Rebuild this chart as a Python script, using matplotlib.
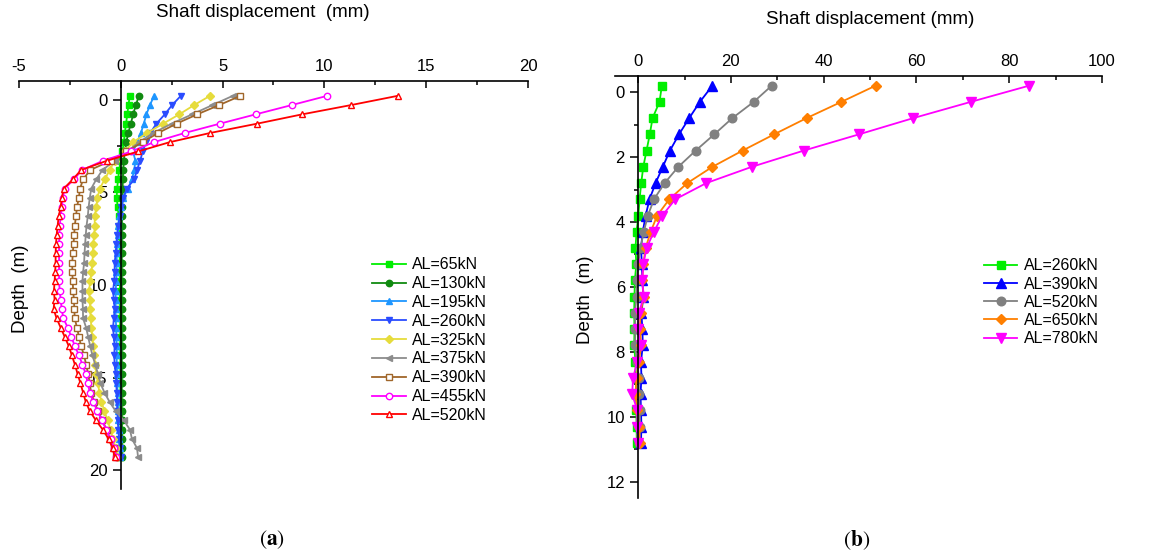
import matplotlib.pyplot as plt
from matplotlib.ticker import MultipleLocator

plt.rcParams['font.family'] = ['Liberation Sans', 'DejaVu Sans']
plt.rcParams['mathtext.fontset'] = 'stix'
plt.rcParams['axes.unicode_minus'] = False

# Data (a): shaft displacement (mm) vs depth (m)
depth_a = [-0.2, 0.3, 0.8, 1.3, 1.8, 2.3, 2.8, 3.3, 3.8, 4.3,
           4.8, 5.3, 5.8, 6.3, 6.8, 7.3, 7.8, 8.3, 8.8, 9.3,
           9.8, 10.3, 10.8, 11.3, 11.8, 12.3, 12.8, 13.3, 13.8, 14.3,
           14.8, 15.3, 15.8, 16.3, 16.8, 17.3, 17.8, 18.3, 18.8, 19.3]
al65 = [0.44, 0.38, 0.32, 0.26, 0.2, 0.15, 0.08, 0.0, -0.08, -0.13,
        -0.18, -0.2, -0.15, -0.1, -0.08, -0.06, -0.05, -0.05, -0.05, -0.04,
        -0.04, -0.04, -0.04, -0.03, -0.03, -0.03, -0.03, -0.03, -0.02, -0.02,
        -0.02, -0.02, -0.02, -0.02, -0.01, -0.01, -0.01, 0.0, 0.0, 0.0]
al130 = [0.88, 0.75, 0.6, 0.5, 0.37, 0.27, 0.2, 0.15, 0.12, 0.1,
         0.09, 0.08, 0.07, 0.06, 0.06, 0.05, 0.05, 0.05, 0.05, 0.05,
         0.05, 0.05, 0.05, 0.05, 0.05, 0.05, 0.05, 0.05, 0.05, 0.05,
         0.05, 0.05, 0.05, 0.05, 0.05, 0.06, 0.06, 0.06, 0.06, 0.06]
al195 = [1.64, 1.43, 1.26, 1.13, 0.99, 0.82, 0.6, 0.72, 0.66, 0.55,
         0.36, 0.1, 0.0, -0.08, -0.12, -0.15, -0.18, -0.2, -0.2, -0.22,
         -0.22, -0.25, -0.25, -0.25, -0.25, -0.22, -0.22, -0.2, -0.2, -0.2,
         -0.18, -0.18, -0.15, -0.15, -0.12, -0.12, -0.1, -0.08, -0.05, -0.03]
al260 = [2.95, 2.52, 2.16, 1.75, 1.45, 1.22, 1.08, 0.95, 0.8, 0.66,
         0.3, 0.12, 0.03, -0.05, -0.13, -0.18, -0.22, -0.25, -0.3, -0.3,
         -0.32, -0.38, -0.34, -0.3, -0.34, -0.38, -0.34, -0.3, -0.32, -0.3,
         -0.25, -0.22, -0.2, -0.18, -0.18, -0.14, -0.12, -0.08, -0.04, 0.0]
al325 = [4.38, 3.6, 2.87, 2.08, 1.3, 0.6, 0.2, -0.3, -0.54, -0.79,
         -1.03, -1.15, -1.2, -1.28, -1.28, -1.3, -1.36, -1.36, -1.4, -1.44,
         -1.5, -1.56, -1.52, -1.5, -1.48, -1.44, -1.4, -1.36, -1.3, -1.25,
         -1.2, -1.12, -1.05, -0.95, -0.8, -0.65, -0.5, -0.38, -0.25, -0.18]
al375 = [5.5, 4.5, 3.5, 2.5, 1.6, 0.9, 0.3, -0.3, -0.9, -1.2,
         -1.45, -1.52, -1.58, -1.62, -1.68, -1.72, -1.75, -1.78, -1.8, -1.85,
         -1.88, -1.88, -1.88, -1.86, -1.85, -1.7, -1.6, -1.5, -1.39, -1.25,
         -1.12, -1.0, -0.8, -0.55, -0.25, 0.15, 0.45, 0.55, 0.8, 0.85]
al390 = [5.88, 4.83, 3.75, 2.74, 1.84, 1.07, 0.28, -0.5, -1.5, -1.85,
         -2.0, -2.06, -2.15, -2.2, -2.26, -2.29, -2.32, -2.36, -2.38, -2.38,
         -2.36, -2.34, -2.3, -2.28, -2.26, -2.15, -2.05, -1.95, -1.8, -1.7,
         -1.6, -1.52, -1.46, -1.3, -1.12, -0.9, -0.7, -0.52, -0.35, -0.25]
al455 = [10.14, 8.39, 6.62, 4.87, 3.15, 1.62, 0.52, -0.87, -1.9, -2.3,
         -2.75, -2.85, -2.9, -2.95, -3.0, -3.02, -3.03, -3.03, -3.03, -3.03,
         -3.03, -3.0, -2.95, -2.9, -2.82, -2.6, -2.43, -2.25, -2.05, -1.88,
         -1.72, -1.62, -1.52, -1.35, -1.15, -0.92, -0.72, -0.5, -0.32, -0.22]
al520 = [13.6, 11.3, 8.9, 6.7, 4.4, 2.4, 0.85, -0.68, -1.95, -2.35,
         -2.8, -2.9, -2.95, -3.05, -3.1, -3.15, -3.18, -3.2, -3.2, -3.22,
         -3.25, -3.28, -3.25, -3.3, -3.15, -2.95, -2.75, -2.55, -2.4, -2.25,
         -2.12, -1.98, -1.85, -1.72, -1.52, -1.22, -0.88, -0.6, -0.4, -0.3]

# Data (b)
depth_b = [-0.2, 0.3, 0.8, 1.3, 1.8, 2.3, 2.8, 3.3, 3.8, 4.3, 4.8, 5.3,
           5.8, 6.3, 6.8, 7.3, 7.8, 8.3, 8.8, 9.3, 9.8, 10.3, 10.8]
b260 = [5.1, 4.6, 3.1, 2.5, 1.8, 1.1, 0.65, 0.3, 0.05, -0.36, -0.58, -0.4,
        -0.72, -0.8, -0.86, -0.8, -0.86, -0.6, -0.5, -0.45, -0.4, -0.35, -0.3]
b390 = [16.0, 13.3, 11.0, 8.8, 6.85, 5.3, 3.75, 2.45, 1.6, 1.0, 0.6, 0.8,
        0.9, 1.1, 0.7, 0.9, 1.0, 0.6, 0.7, 0.5, 0.6, 0.7, 0.6]
b520 = [28.8, 24.9, 20.3, 16.4, 12.4, 8.65, 5.7, 3.4, 2.1, 1.2, 0.5, 0.0,
        -0.36, -0.36, -0.72, -0.58, -0.72, -0.2, 0.15, 0.15, 0.36, 0.36, 0.15]
b650 = [51.2, 43.8, 36.3, 29.3, 22.5, 16.0, 10.6, 6.7, 4.1, 2.7, 1.6, 1.1,
        0.87, 1.2, 0.5, 0.36, 0.65, 0.15, -0.36, -0.58, -0.2, 0.15, 0.36]
b780 = [84.3, 71.7, 59.3, 47.6, 35.7, 24.5, 14.7, 8.0, 5.2, 3.4, 1.8, 1.1,
        0.87, 1.2, 0.15, -0.07, 0.5, -0.2, -1.1, -1.3, -0.2, -0.2, -0.07]

labels_a = ['AL=65kN', 'AL=130kN', 'AL=195kN', 'AL=260kN', 'AL=325kN',
            'AL=375kN', 'AL=390kN', 'AL=455kN', 'AL=520kN']
labels_b = ['AL=260kN', 'AL=390kN', 'AL=520kN', 'AL=650kN', 'AL=780kN']

fig = plt.figure(figsize=(11.63, 5.51), dpi=100)
ax1 = fig.add_axes([0.0163, 0.1125, 0.4377, 0.7405])
ax2 = fig.add_axes([0.5288, 0.0962, 0.4187, 0.766])


def style_axis(ax):
    ax.spines['left'].set_position(('data', 0))
    ax.spines['right'].set_visible(False)
    ax.spines['bottom'].set_visible(False)
    for s in ['left', 'top']:
        ax.spines[s].set_linewidth(1.2)
    ax.xaxis.tick_top()
    ax.xaxis.set_label_position('top')
    ax.tick_params(axis='x', which='both', direction='in', labelsize=12, width=1.1, pad=5)
    ax.tick_params(axis='x', which='major', length=5)
    ax.tick_params(axis='x', which='minor', length=3)
    ax.tick_params(axis='y', which='both', direction='out', labelsize=12, width=1.1)
    ax.tick_params(axis='y', which='major', length=6)
    ax.tick_params(axis='y', which='minor', length=3)


# (a)
series_a = [al65, al130, al195, al260, al325, al375, al390, al455, al520]
colors_a = ['#00ee00', '#108a10', '#1e96ff', '#2a4cff', '#e6dc3c',
            '#8c8c8c', '#a0662a', '#ff00ff', '#ff0000']
markers_a = ['s', 'o', '^', 'v', 'D', '<', 's', 'o', '^']
hollow_a = [False, False, False, False, False, False, True, True, True]
for x, c, m, h, lab in zip(series_a, colors_a, markers_a, hollow_a, labels_a):
    ax1.plot(x, depth_a, color=c, marker=m, markersize=4.6 if m != 'D' else 4.0,
             markerfacecolor='white' if h else c, markeredgecolor=c,
             markeredgewidth=1.0, lw=1.3, label=lab)

style_axis(ax1)
ax1.set_xlim(-5, 20)
ax1.set_ylim(21, -1)
ax1.xaxis.set_major_locator(MultipleLocator(5))
ax1.xaxis.set_minor_locator(MultipleLocator(2.5))
ax1.yaxis.set_major_locator(MultipleLocator(5))
ax1.yaxis.set_minor_locator(MultipleLocator(2.5))
ax1.set_xlabel('Shaft displacement  (mm)', fontsize=13.5)
ax1.xaxis.label.set_va('center')
ax1.xaxis.set_label_coords(0.479, 1.169)
ax1.set_ylabel('Depth  (m)', fontsize=13.5)
ax1.yaxis.label.set_va('center')
ax1.yaxis.set_label_coords(0.003, 0.49)
ax1.legend(loc='upper left', bbox_to_anchor=(0.32, 0.533), bbox_transform=fig.transFigure,
           frameon=False, fontsize=11.5, handlelength=2.1, handletextpad=0.4,
           labelspacing=0.24, borderaxespad=0, borderpad=0)

# (b)
series_b = [b260, b390, b520, b650, b780]
colors_b = ['#00ee00', '#0000ff', '#808080', '#ff7f00', '#ff00ff']
markers_b = ['s', '^', 'o', 'D', 'v']
sizes_b = [6.2, 6.5, 6.2, 5.4, 7.2]
for x, c, m, ms, lab in zip(series_b, colors_b, markers_b, sizes_b, labels_b):
    ax2.plot(x, depth_b, color=c, marker=m, markersize=ms,
             markeredgecolor=c, lw=1.3, label=lab)

style_axis(ax2)
ax2.set_xlim(-5, 100)
ax2.set_ylim(12.5, -0.5)
ax2.xaxis.set_major_locator(MultipleLocator(20))
ax2.xaxis.set_minor_locator(MultipleLocator(10))
ax2.yaxis.set_major_locator(MultipleLocator(2))
ax2.yaxis.set_minor_locator(MultipleLocator(1))
ax2.set_xlabel('Shaft displacement (mm)', fontsize=13.5)
ax2.xaxis.label.set_va('center')
ax2.xaxis.set_label_coords(0.524, 1.133)
ax2.set_ylabel('Depth  (m)', fontsize=13.5)
ax2.yaxis.label.set_va('center')
ax2.yaxis.set_label_coords(-0.06, 0.47)
ax2.legend(loc='upper left', bbox_to_anchor=(0.846, 0.531), bbox_transform=fig.transFigure,
           frameon=False, fontsize=11.5, handlelength=2.1, handletextpad=0.4,
           labelspacing=0.2, borderaxespad=0, borderpad=0)

fig.text(272 / 1163, 1 - 540 / 551, r'($\mathbf{a}$)', family='STIXGeneral',
         fontsize=15.5, ha='center', va='center')
fig.text(857 / 1163, 1 - 540 / 551, r'($\mathbf{b}$)', family='STIXGeneral',
         fontsize=15.5, ha='center', va='center')

fig.savefig('out.png', dpi=100)
